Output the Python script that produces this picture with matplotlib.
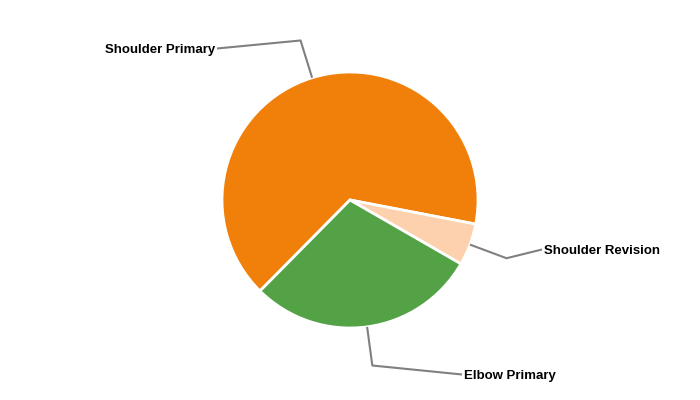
import numpy as np
import matplotlib.pyplot as plt

plt.rcParams['font.family'] = ['Liberation Sans', 'DejaVu Sans']

labels = ["Shoulder Primary", "Shoulder Revision", "Elbow Primary"]
values = [65.6, 5.3, 29.1]
colors = ["#F0800A", "#FDD1AD", "#53A246"]

# label text anchor points in pixel space (layout only)
label_pos = [(215, 49.5), (544, 250.5), (464, 375.5)]
label_ha = ["right", "left", "left"]

W, H = 700, 400
cx, cy, r = 350, 200, 128

fig = plt.figure(figsize=(7, 4), dpi=100)
ax = fig.add_axes([0, 0, 1, 1])

wedges, _ = ax.pie(values, colors=colors, startangle=225.3, counterclock=False,
                   center=(cx, H - cy), radius=r,
                   wedgeprops=dict(edgecolor="white", linewidth=2))

for w, lab, (lx, ly), ha in zip(wedges, labels, label_pos, label_ha):
    mid = np.deg2rad((w.theta1 + w.theta2) / 2)
    x0 = cx + r * np.cos(mid)
    y0 = (H - cy) + r * np.sin(mid)
    x1 = cx + (r + 39) * np.cos(mid)
    y1 = (H - cy) + (r + 39) * np.sin(mid)
    ex = lx + (2 if ha == "right" else -2)
    ax.plot([x0, x1, ex], [y0, y1, H - ly + 1], color="#808080", lw=1.5,
            solid_capstyle="butt", zorder=1)
    ax.text(lx, H - ly, lab, ha=ha, va="center", fontsize=9.5,
            fontweight="bold", color="black")

ax.set_xlim(0, W)
ax.set_ylim(0, H)
ax.set_aspect("auto")
ax.axis("off")

fig.savefig("out.png", dpi=100)
